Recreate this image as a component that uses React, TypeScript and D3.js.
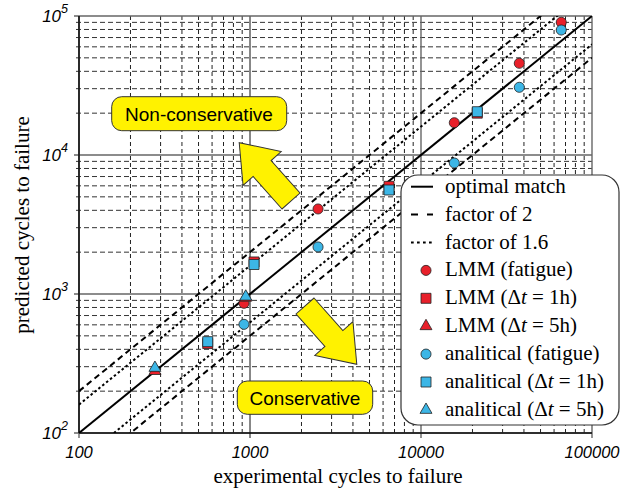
import { scaleLog, symbol, symbolCircle, symbolSquare, symbolTriangle, range } from 'd3'

// experimental vs predicted cycles to failure
const expFatigue = [922, 2500, 15660, 37570, 66100]
const lmmFatigue = [857, 4090, 17070, 45680, 90100]
const anaFatigue = [605, 2180, 8760, 30690, 79300]

const exp1h = [566, 1056, 6500, 21340]
const lmm1h = [440, 1700, 5950, 20000]
const ana1h = [454, 1630, 5600, 20490]

const exp5h = [278, 944]
const lmm5h = [279, 940]
const ana5h = [294, 957]

const decades = [100, 1000, 10000, 100000]
const xTickLabels = ['100', '1000', '10000', '100000']
const yTickExponents = ['2', '3', '4', '5']

const width = 633
const height = 495
const left = 79
const right = 592
const top = 16
const bottom = 433

const red = '#e8202a'
const blue = '#3cb6e6'
const yellow = '#fff200'
const serif = "'Liberation Serif', 'Times New Roman', serif"
const sans = "'Liberation Sans', Arial, sans-serif"

const x = scaleLog().domain([100, 100000]).range([left, right])
const y = scaleLog().domain([100, 100000]).range([bottom, top])

const circlePath = symbol().type(symbolCircle).size(80)()
const squarePath = symbol().type(symbolSquare).size(100)()
const trianglePath = symbol().type(symbolTriangle).size(62)()

interface Series {
  label: string
  xs: number[]
  ys: number[]
  path: string | null
  fill: string
}

const series: Series[] = [
  { label: 'LMM (fatigue)', xs: expFatigue, ys: lmmFatigue, path: circlePath, fill: red },
  { label: 'LMM (1h)', xs: exp1h, ys: lmm1h, path: squarePath, fill: red },
  { label: 'LMM (5h)', xs: exp5h, ys: lmm5h, path: trianglePath, fill: red },
  { label: 'analitical (fatigue)', xs: expFatigue, ys: anaFatigue, path: circlePath, fill: blue },
  { label: 'analitical (1h)', xs: exp1h, ys: ana1h, path: squarePath, fill: blue },
  { label: 'analitical (5h)', xs: exp5h, ys: ana5h, path: trianglePath, fill: blue },
]

// reference lines: factor, dash pattern
const refLines = [
  { factor: 1, dash: undefined },
  { factor: 2, dash: '6,4' },
  { factor: 0.5, dash: '6,4' },
  { factor: 1.6, dash: '2.5,2.5' },
  { factor: 1 / 1.6, dash: '2.5,2.5' },
]

const minorTicks = decades.slice(0, 3).flatMap((d) => range(2, 10).map((k) => d * k))

function arrowPoints(length: number, headLength: number, headWidth: number, shaftWidth: number) {
  const s = shaftWidth / 2
  const h = headWidth / 2
  const b = length - headLength
  return [
    [0, -s], [b, -s], [b, -h], [length, 0], [b, h], [b, s], [0, s],
  ].map((p) => p.join(',')).join(' ')
}

const arrowShape = arrowPoints(78, 34.5, 51, 24)

function Legend() {
  const x0 = 401
  const y0 = 175
  const rowY = (i: number) => 186.7 + i * 27.9
  const lines = [
    { label: 'optimal match', dash: undefined },
    { label: 'factor of 2', dash: '7,9' },
    { label: 'factor of 1.6', dash: '2.7,3.3' },
  ]
  const markerRows = [
    { name: 'LMM', tail: '(fatigue)', path: circlePath, fill: red },
    { name: 'LMM', tail: '1h', path: squarePath, fill: red },
    { name: 'LMM', tail: '5h', path: trianglePath, fill: red },
    { name: 'analitical', tail: '(fatigue)', path: circlePath, fill: blue },
    { name: 'analitical', tail: '1h', path: squarePath, fill: blue },
    { name: 'analitical', tail: '5h', path: trianglePath, fill: blue },
  ]
  return (
    <g>
      <rect x={x0} y={y0} width={218} height={250} rx={17} fill="#fff" stroke="#333" strokeWidth={1.2} />
      {lines.map((l, i) => (
        <g key={l.label}>
          <line x1={411} x2={433} y1={rowY(i)} y2={rowY(i)} stroke="#000" strokeWidth={2} strokeDasharray={l.dash} />
          <text x={445} y={rowY(i) + 6} fontFamily={serif} fontSize={21}>{l.label}</text>
        </g>
      ))}
      {markerRows.map((m, j) => {
        const i = j + 3
        return (
          <g key={`${m.name}-${m.tail}`}>
            <path d={m.path ?? ''} transform={`translate(426,${rowY(i)})`} fill={m.fill} stroke="#222" strokeWidth={0.8} />
            <text x={445} y={rowY(i) + 6} fontFamily={serif} fontSize={21}>
              {m.tail === '(fatigue)' ? (
                `${m.name} (fatigue)`
              ) : (
                <>
                  {`${m.name} (Δ`}
                  <tspan fontStyle="italic">t</tspan>
                  {` = ${m.tail})`}
                </>
              )}
            </text>
          </g>
        )
      })}
    </g>
  )
}

export default function App() {
  return (
    <svg
      width={width}
      height={height}
      style={{ position: 'absolute', left: 0, top: 0, background: '#fff' }}
    >
      <defs>
        <clipPath id="plot-clip">
          <rect x={left} y={top} width={right - left} height={bottom - top} />
        </clipPath>
      </defs>
      <rect width={width} height={height} fill="#fff" />

      {/* minor grid */}
      {minorTicks.map((v) => (
        <g key={`minor-${v}`}>
          <line x1={x(v)} x2={x(v)} y1={top} y2={bottom + 3} stroke="#222" strokeWidth={1} strokeDasharray="4,3" />
          <line x1={left - 3} x2={right} y1={y(v)} y2={y(v)} stroke="#333" strokeWidth={1} strokeDasharray="5,3" />
        </g>
      ))}

      {/* major grid */}
      {decades.map((v) => (
        <g key={`major-${v}`}>
          <line x1={x(v)} x2={x(v)} y1={top} y2={bottom + 5} stroke={v === 1000 ? '#111' : '#666'} strokeWidth={v === 1000 ? 1 : 1.4} />
          <line x1={left - 5} x2={right} y1={y(v)} y2={y(v)} stroke="#666" strokeWidth={1.6} />
        </g>
      ))}

      {/* axes */}
      <line x1={left} x2={left} y1={top} y2={bottom} stroke="#111" strokeWidth={1.6} />
      <line x1={left} x2={right} y1={bottom} y2={bottom} stroke="#111" strokeWidth={1.6} />

      {/* reference lines */}
      <g clipPath="url(#plot-clip)">
        {refLines.map((r, i) => (
          <line
            key={i}
            x1={x(100)}
            y1={y(100 * r.factor)}
            x2={x(100000)}
            y2={y(100000 * r.factor)}
            stroke="#000"
            strokeWidth={2}
            strokeDasharray={r.dash}
          />
        ))}
      </g>

      {/* annotations */}
      <rect x={111.7} y={96.7} width={175} height={34} rx={10} fill={yellow} stroke="#333" strokeWidth={1} />
      <text x={199} y={120.5} textAnchor="middle" fontFamily={sans} fontSize={19}>Non-conservative</text>
      <polygon points={arrowShape} transform="translate(291,201) rotate(228.4)" fill={yellow} stroke="#333" strokeWidth={1} />
      <polygon points={arrowShape} transform="translate(305,306) rotate(48.4)" fill={yellow} stroke="#333" strokeWidth={1} />
      <rect x={237.3} y={381} width={135.4} height={33.3} rx={10} fill={yellow} stroke="#333" strokeWidth={1} />
      <text x={305} y={404.5} textAnchor="middle" fontFamily={sans} fontSize={19}>Conservative</text>

      {/* data */}
      {series.map((s) => (
        <g key={s.label}>
          {s.xs.map((v, i) => (
            <path
              key={i}
              d={s.path ?? ''}
              transform={`translate(${x(v)},${y(s.ys[i])})`}
              fill={s.fill}
              stroke="#222"
              strokeWidth={0.8}
            />
          ))}
        </g>
      ))}

      <Legend />

      {/* tick labels */}
      {decades.map((v, i) => (
        <text key={`xt-${v}`} x={x(v)} y={458} textAnchor="middle" fontFamily={sans} fontStyle="italic" fontSize={16.5}>
          {xTickLabels[i]}
        </text>
      ))}
      {decades.map((v, i) => (
        <text key={`yt-${v}`} x={68} y={y(v) + 6} textAnchor="end" fontFamily={sans} fontStyle="italic" fontSize={17}>
          10
          <tspan dy={-9} fontSize={12.5}>{yTickExponents[i]}</tspan>
        </text>
      ))}

      {/* axis titles */}
      <text x={338} y={483} textAnchor="middle" fontFamily={serif} fontSize={21}>experimental cycles to failure</text>
      <text transform="translate(29,225) rotate(-90)" textAnchor="middle" fontFamily={serif} fontSize={21}>
        predicted cycles to failure
      </text>
    </svg>
  )
}
